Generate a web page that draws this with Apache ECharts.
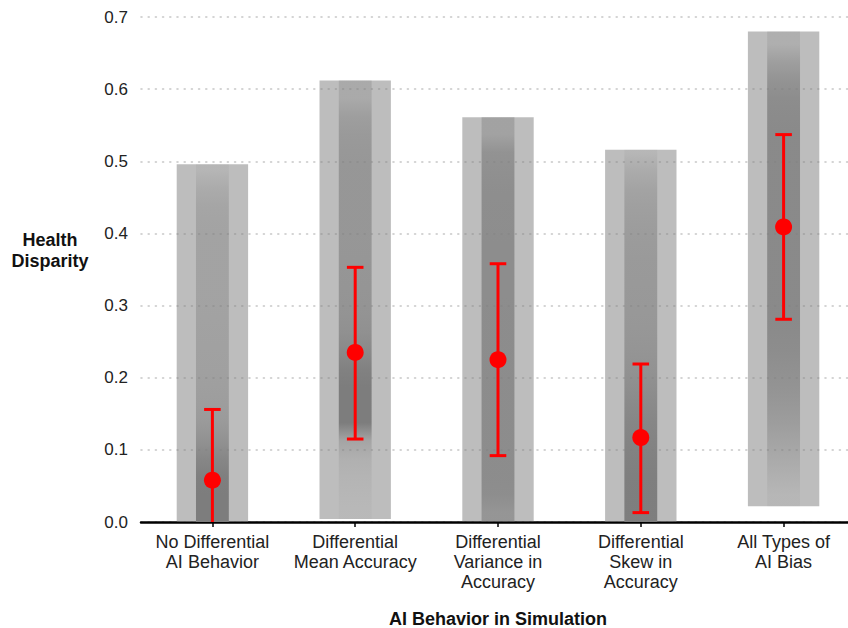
<!DOCTYPE html>
<html><head><meta charset="utf-8">
<script src="https://cdn.jsdelivr.net/npm/echarts@6/dist/echarts.min.js"></script>
<style>html,body{margin:0;padding:0;background:#fff}#chart{width:848px;height:628px}</style>
</head><body><div id="chart"></div>
<script>
// ---- data ----
const categories = ['No Differential\nAI Behavior', 'Differential\nMean Accuracy', 'Differential\nVariance in\nAccuracy', 'Differential\nSkew in\nAccuracy', 'All Types of\nAI Bias'];
const yTickValues = [0, 0.1, 0.2, 0.3, 0.4, 0.5, 0.6, 0.7];
const rangeMin = [0.000, 0.004, 0.001, 0.000, 0.022];
const rangeMax = [0.496, 0.612, 0.561, 0.516, 0.680];
const meanValues = [0.058, 0.235, 0.225, 0.117, 0.409];
const lowerValues = [-0.040, 0.115, 0.092, 0.013, 0.281];
const upperValues = [0.156, 0.353, 0.358, 0.219, 0.537];
// visual point density of the jittered simulation runs, per 0.025 bin from 0 to 0.7
const densityBin = 0.025;
const densNoDiff = [1.0, 1.0, 0.97, 0.85, 0.68, 0.55, 0.5, 0.47, 0.45, 0.44, 0.43, 0.42, 0.41, 0.41, 0.41, 0.41, 0.4, 0.37, 0.28, 0.12, 0, 0, 0, 0, 0, 0, 0, 0];
const densMean = [0.07, 0.1, 0.14, 0.2, 0.38, 1, 1, 1, 0.93, 0.8, 0.7, 0.65, 0.63, 0.62, 0.61, 0.6, 0.6, 0.6, 0.6, 0.6, 0.58, 0.55, 0.48, 0.3, 0.08, 0, 0, 0];
const densVar = [0.62, 0.74, 0.76, 0.76, 0.76, 0.76, 0.76, 0.76, 0.76, 0.76, 0.76, 0.76, 0.75, 0.75, 0.75, 0.75, 0.74, 0.74, 0.73, 0.7, 0.66, 0.42, 0.1, 0, 0, 0, 0, 0];
const densSkew = [0.98, 0.98, 0.97, 0.94, 0.9, 0.86, 0.8, 0.73, 0.67, 0.63, 0.6, 0.58, 0.57, 0.56, 0.55, 0.53, 0.5, 0.46, 0.4, 0.27, 0.1, 0, 0, 0, 0, 0, 0, 0];
const densAll = [0.03, 0.1, 0.2, 0.3, 0.4, 0.5, 0.58, 0.65, 0.7, 0.75, 0.78, 0.8, 0.8, 0.8, 0.8, 0.8, 0.8, 0.8, 0.8, 0.8, 0.8, 0.8, 0.78, 0.75, 0.65, 0.48, 0.22, 0.05];
const densities = [densNoDiff, densMean, densVar, densSkew, densAll];

const FONT = 'Liberation Sans, Arial, Helvetica, sans-serif';
const chart = echarts.init(document.getElementById('chart'), null, {renderer: 'svg'});

function band(api) { return api.size([1, 0])[0]; }

chart.setOption({
  animation: false,
  backgroundColor: '#ffffff',
  grid: {left: 141, right: -7, top: 17, bottom: 106, containLabel: false, outerBoundsMode: 'none'},
  xAxis: {
    type: 'category', data: categories, boundaryGap: true,
    axisLine: {show: true, lineStyle: {color: '#000', width: 2.5}},
    axisTick: {show: true, alignWithLabel: true, length: 5, lineStyle: {color: '#000', width: 1.5}},
    axisLabel: {interval: 0, fontSize: 18, lineHeight: 20, color: '#222', margin: 10, fontFamily: FONT},
    splitLine: {show: false},
    name: 'AI Behavior in Simulation', nameLocation: 'middle', nameGap: 88,
    nameTextStyle: {fontSize: 18, fontWeight: 'bold', color: '#111', fontFamily: FONT}
  },
  yAxis: {
    type: 'value', min: yTickValues[0], max: yTickValues[yTickValues.length - 1], interval: 0.1,
    axisLine: {show: false}, axisTick: {show: false},
    axisLabel: {fontSize: 17, color: '#222', margin: 13, fontFamily: FONT, formatter: v => v.toFixed(1)},
    splitLine: {show: true, lineStyle: {color: '#c6c6c6', width: 1.6, type: [1, 6.2], cap: 'round'}}
  },
  graphic: [{
    type: 'text', x: 50, y: 250, z: 10,
    style: {text: 'Health\nDisparity', fontSize: 18, fontWeight: 'bold', fontFamily: FONT, fill: '#111', align: 'center', verticalAlign: 'middle', lineHeight: 21}
  }],
  series: [
    {
      type: 'custom', name: 'Range', z: 1,
      data: categories.map((c, i) => [i, rangeMin[i], rangeMax[i]]),
      encode: {x: 0, y: [1, 2]},
      renderItem: (params, api) => {
        const i = api.value(0);
        const p0 = api.coord([i, api.value(1)]);
        const p1 = api.coord([i, api.value(2)]);
        const w = band(api) * 0.5;
        return {type: 'rect', shape: {x: p0[0] - w / 2, y: p1[1], width: w, height: p0[1] - p1[1]},
                style: {fill: 'rgba(125,125,125,0.51)'}};
      }
    },
    {
      type: 'custom', name: 'Runs', z: 2,
      data: categories.map((c, i) => [i, rangeMin[i], rangeMax[i]]),
      encode: {x: 0, y: [1, 2]},
      renderItem: (params, api) => {
        const i = api.value(0);
        const lo = api.value(1), hi = api.value(2);
        const d = densities[i];
        const top = api.coord([i, hi]);
        const bot = api.coord([i, lo]);
        const w = band(api) * 0.23;
        const stops = [];
        d.forEach((a, j) => {
          const v = (j + 0.5) * densityBin;
          const off = (hi - v) / (hi - lo);
          if (off >= 0 && off <= 1) stops.push({offset: off, color: 'rgba(125,125,125,' + a + ')'});
        });
        stops.reverse();
        return {type: 'rect', shape: {x: top[0] - w / 2, y: top[1], width: w, height: bot[1] - top[1]},
                style: {fill: new echarts.graphic.LinearGradient(0, 0, 0, 1, stops)}};
      }
    },
    {
      type: 'custom', name: 'Interval', z: 3,
      data: categories.map((c, i) => [i, lowerValues[i], upperValues[i]]),
      encode: {x: 0, y: [1, 2]},
      renderItem: (params, api) => {
        const i = api.value(0);
        const lo = api.value(1), hi = api.value(2);
        const yMin = yTickValues[0];
        const pLo = api.coord([i, Math.max(lo, yMin)]);
        const pHi = api.coord([i, hi]);
        const c = band(api) * 0.058;
        const st = {stroke: '#ff0000', lineWidth: 3};
        const children = [
          {type: 'line', shape: {x1: pLo[0], y1: pLo[1], x2: pHi[0], y2: pHi[1]}, style: st},
          {type: 'line', shape: {x1: pHi[0] - c, y1: pHi[1], x2: pHi[0] + c, y2: pHi[1]}, style: st}
        ];
        if (lo >= yMin) children.push({type: 'line', shape: {x1: pLo[0] - c, y1: pLo[1], x2: pLo[0] + c, y2: pLo[1]}, style: st});
        return {type: 'group', children: children};
      }
    },
    {
      type: 'scatter', name: 'Mean', z: 4,
      data: meanValues.map((v, i) => [i, v]),
      symbol: 'circle', symbolSize: 17,
      itemStyle: {color: '#ff0000', opacity: 1}
    }
  ]
});
</script>
</body></html>
